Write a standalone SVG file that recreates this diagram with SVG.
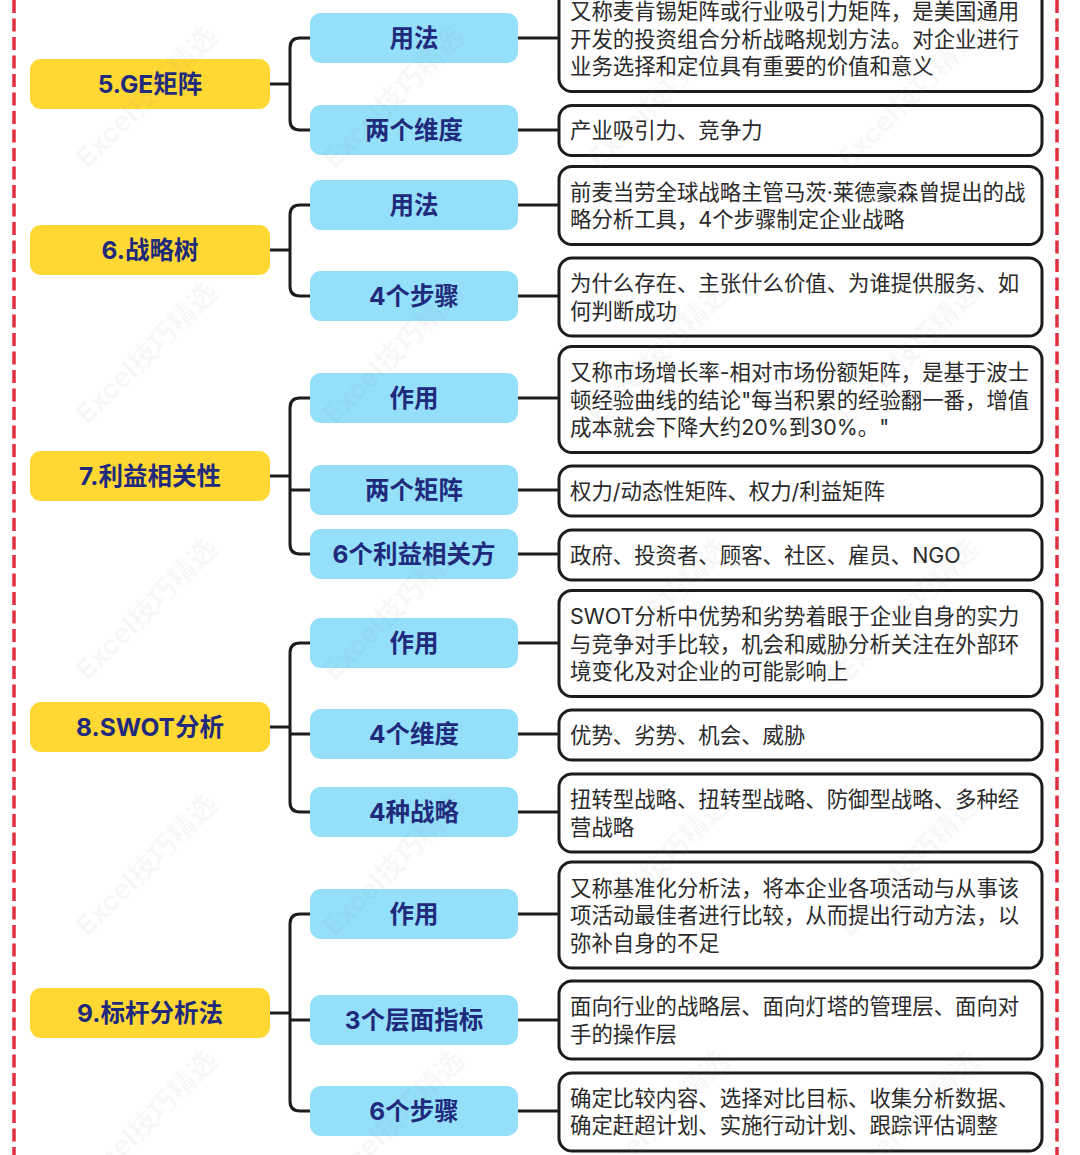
<svg xmlns="http://www.w3.org/2000/svg" width="1080" height="1155" viewBox="0 0 1080 1155">
<style>
.y{fill:#ffd833}
.b{fill:#94dffa}
.w{fill:#fff;stroke:#1c1c1c;stroke-width:3}
.h{font:700 24.5px Inter,"Noto Sans CJK SC",sans-serif;fill:#1f2a7c;text-anchor:middle;dominant-baseline:central}
.t{font:400 21.4px Inter,"Noto Sans CJK SC",sans-serif;fill:#2a2a2a;dominant-baseline:central}
.c{fill:none;stroke:#1c1c1c;stroke-width:3}
.d{stroke:#e0303f;stroke-width:3.5;stroke-dasharray:13 5.5;fill:none}
.m{font:700 28px Inter,"Noto Sans CJK SC",sans-serif;fill:#808080;fill-opacity:.06;text-anchor:middle;dominant-baseline:central}
</style>
<rect width="1080" height="1155" fill="#fff"/>
<g id="border"><path class="d" d="M14 0V1155"/><path class="d" d="M1057 0V1155"/></g>
<g id="connectors">
<path class="c" d="M270 84H290M310 38H300Q290 38 290 48V120Q290 130 300 130H310"/>
<path class="c" d="M270 250H290M310 205H300Q290 205 290 215V286Q290 296 300 296H310"/>
<path class="c" d="M270 476H290M310 398H300Q290 398 290 408V544Q290 554 300 554H310M290 490H310"/>
<path class="c" d="M270 727H290M310 643H300Q290 643 290 653V802Q290 812 300 812H310M290 734H310"/>
<path class="c" d="M270 1013H290M310 914H300Q290 914 290 924V1101Q290 1111 300 1111H310M290 1020H310"/>
<path class="c" d="M518 38H559M518 130H559M518 205H559M518 296H559M518 398H559M518 490H559M518 554H559M518 643H559M518 734H559M518 812H559M518 914H559M518 1020H559M518 1111H559"/>
</g>
<g id="n5"><rect class="y" x="30" y="59" width="240" height="50" rx="11"/><text class="h" x="150" y="84">5.GE矩阵</text></g>
<g id="n6"><rect class="y" x="30" y="225" width="240" height="50" rx="11"/><text class="h" x="150" y="250">6.战略树</text></g>
<g id="n7"><rect class="y" x="30" y="451" width="240" height="50" rx="11"/><text class="h" x="150" y="476">7.利益相关性</text></g>
<g id="n8"><rect class="y" x="30" y="702" width="240" height="50" rx="11"/><text class="h" x="150" y="727">8.SWOT分析</text></g>
<g id="n9"><rect class="y" x="30" y="988" width="240" height="50" rx="11"/><text class="h" x="150" y="1013">9.标杆分析法</text></g>
<g id="b51"><rect class="b" x="310" y="13" width="208" height="50" rx="11"/><text class="h" x="414" y="38">用法</text></g>
<g id="b52"><rect class="b" x="310" y="105" width="208" height="50" rx="11"/><text class="h" x="414" y="130">两个维度</text></g>
<g id="b61"><rect class="b" x="310" y="180" width="208" height="50" rx="11"/><text class="h" x="414" y="205">用法</text></g>
<g id="b62"><rect class="b" x="310" y="271" width="208" height="50" rx="11"/><text class="h" x="414" y="296">4个步骤</text></g>
<g id="b71"><rect class="b" x="310" y="373" width="208" height="50" rx="11"/><text class="h" x="414" y="398">作用</text></g>
<g id="b72"><rect class="b" x="310" y="465" width="208" height="50" rx="11"/><text class="h" x="414" y="490">两个矩阵</text></g>
<g id="b73"><rect class="b" x="310" y="529" width="208" height="50" rx="11"/><text class="h" x="414" y="554">6个利益相关方</text></g>
<g id="b81"><rect class="b" x="310" y="618" width="208" height="50" rx="11"/><text class="h" x="414" y="643">作用</text></g>
<g id="b82"><rect class="b" x="310" y="709" width="208" height="50" rx="11"/><text class="h" x="414" y="734">4个维度</text></g>
<g id="b83"><rect class="b" x="310" y="787" width="208" height="50" rx="11"/><text class="h" x="414" y="812">4种战略</text></g>
<g id="b91"><rect class="b" x="310" y="889" width="208" height="50" rx="11"/><text class="h" x="414" y="914">作用</text></g>
<g id="b92"><rect class="b" x="310" y="995" width="208" height="50" rx="11"/><text class="h" x="414" y="1020">3个层面指标</text></g>
<g id="b93"><rect class="b" x="310" y="1086" width="208" height="50" rx="11"/><text class="h" x="414" y="1111">6个步骤</text></g>
<g id="w51"><rect class="w" x="559" y="-15" width="483" height="106.500" rx="13"/><text class="t" x="570" y="11">又称麦肯锡矩阵或行业吸引力矩阵，是美国通用</text><text class="t" x="570" y="38.500">开发的投资组合分析战略规划方法。对企业进行</text><text class="t" x="570" y="66">业务选择和定位具有重要的价值和意义</text></g>
<g id="w52"><rect class="w" x="559" y="105.500" width="483" height="50" rx="13"/><text class="t" x="570" y="130">产业吸引力、竞争力</text></g>
<g id="w61"><rect class="w" x="559" y="166.500" width="483" height="78" rx="13"/><text class="t" x="570" y="191.500">前麦当劳全球战略主管马茨·莱德豪森曾提出的战</text><text class="t" x="570" y="219">略分析工具，4个步骤制定企业战略</text></g>
<g id="w62"><rect class="w" x="559" y="258" width="483" height="78" rx="13"/><text class="t" x="570" y="283">为什么存在、主张什么价值、为谁提供服务、如</text><text class="t" x="570" y="310.500">何判断成功</text></g>
<g id="w71"><rect class="w" x="559" y="346.500" width="483" height="106" rx="13"/><text class="t" x="570" y="372">又称市场增长率-相对市场份额矩阵，是基于波士</text><text class="t" x="570" y="399.500">顿经验曲线的结论"每当积累的经验翻一番，增值</text><text class="t" x="570" y="427">成本就会下降大约20%到30%。"</text></g>
<g id="w72"><rect class="w" x="559" y="466" width="483" height="50" rx="13"/><text class="t" x="570" y="490.500">权力/动态性矩阵、权力/利益矩阵</text></g>
<g id="w73"><rect class="w" x="559" y="530" width="483" height="50" rx="13"/><text class="t" x="570" y="554.500">政府、投资者、顾客、社区、雇员、NGO</text></g>
<g id="w81"><rect class="w" x="559" y="590.500" width="483" height="106" rx="13"/><text class="t" x="570" y="616">SWOT分析中优势和劣势着眼于企业自身的实力</text><text class="t" x="570" y="643.500">与竞争对手比较，机会和威胁分析关注在外部环</text><text class="t" x="570" y="671">境变化及对企业的可能影响上</text></g>
<g id="w82"><rect class="w" x="559" y="710" width="483" height="50" rx="13"/><text class="t" x="570" y="734.500">优势、劣势、机会、威胁</text></g>
<g id="w83"><rect class="w" x="559" y="774" width="483" height="78" rx="13"/><text class="t" x="570" y="799">扭转型战略、扭转型战略、防御型战略、多种经</text><text class="t" x="570" y="826.500">营战略</text></g>
<g id="w91"><rect class="w" x="559" y="862" width="483" height="106" rx="13"/><text class="t" x="570" y="887.500">又称基准化分析法，将本企业各项活动与从事该</text><text class="t" x="570" y="915">项活动最佳者进行比较，从而提出行动方法，以</text><text class="t" x="570" y="942.500">弥补自身的不足</text></g>
<g id="w92"><rect class="w" x="559" y="981" width="483" height="78" rx="13"/><text class="t" x="570" y="1006">面向行业的战略层、面向灯塔的管理层、面向对</text><text class="t" x="570" y="1033.500">手的操作层</text></g>
<g id="w93"><rect class="w" x="559" y="1073" width="483" height="78" rx="13"/><text class="t" x="570" y="1097.500">确定比较内容、选择对比目标、收集分析数据、</text><text class="t" x="570" y="1125">确定赶超计划、实施行动计划、跟踪评估调整</text></g>
<g id="watermarks">
<text class="m" transform="translate(146 97) rotate(-45)">Excel技巧精选</text>
<text class="m" transform="translate(393 97) rotate(-45)">Excel技巧精选</text>
<text class="m" transform="translate(658 97) rotate(-45)">Excel技巧精选</text>
<text class="m" transform="translate(908 97) rotate(-45)">Excel技巧精选</text>
<text class="m" transform="translate(146 353) rotate(-45)">Excel技巧精选</text>
<text class="m" transform="translate(393 353) rotate(-45)">Excel技巧精选</text>
<text class="m" transform="translate(658 353) rotate(-45)">Excel技巧精选</text>
<text class="m" transform="translate(908 353) rotate(-45)">Excel技巧精选</text>
<text class="m" transform="translate(146 609) rotate(-45)">Excel技巧精选</text>
<text class="m" transform="translate(393 609) rotate(-45)">Excel技巧精选</text>
<text class="m" transform="translate(658 609) rotate(-45)">Excel技巧精选</text>
<text class="m" transform="translate(908 609) rotate(-45)">Excel技巧精选</text>
<text class="m" transform="translate(146 865) rotate(-45)">Excel技巧精选</text>
<text class="m" transform="translate(393 865) rotate(-45)">Excel技巧精选</text>
<text class="m" transform="translate(658 865) rotate(-45)">Excel技巧精选</text>
<text class="m" transform="translate(908 865) rotate(-45)">Excel技巧精选</text>
<text class="m" transform="translate(146 1121) rotate(-45)">Excel技巧精选</text>
<text class="m" transform="translate(393 1121) rotate(-45)">Excel技巧精选</text>
<text class="m" transform="translate(658 1121) rotate(-45)">Excel技巧精选</text>
<text class="m" transform="translate(908 1121) rotate(-45)">Excel技巧精选</text>
</g>
</svg>
